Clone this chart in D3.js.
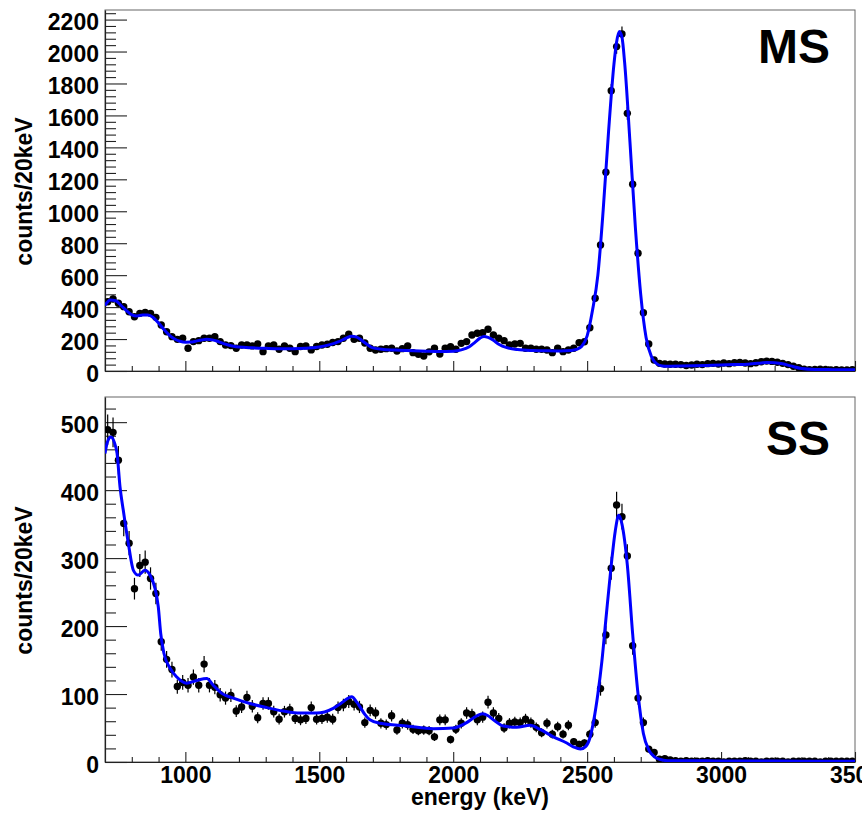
<!DOCTYPE html>
<html><head><meta charset="utf-8">
<script src="https://cdn.jsdelivr.net/npm/d3@7"></script>
<style>
body{margin:0;background:#fff}
text{font-family:"Liberation Sans",Arial,Helvetica,sans-serif;font-weight:bold;fill:#000}
</style>
</head><body>
<svg id="c" width="862" height="813"></svg>
<script>
// ---- data ----
const energyBins = d3.range(710, 3500, 20); // 20 keV bin centers, 700-3500 keV

const msCounts = [
  434,451,424,403,371,340,361,367,361,336,
  288,246,215,198,205,142,184,190,205,205,
  215,184,163,159,142,163,163,157,169,121,
  157,163,136,157,142,121,153,157,132,153,
  163,167,178,184,205,230,198,205,175,142,
  131,136,140,142,125,140,157,115,105,94,
  120,142,106,142,152,136,173,184,225,236,
  240,261,225,205,190,163,169,173,142,142,
  136,136,131,115,142,121,131,142,177,183,
  271,455,789,1244,1755,2031,2110,1613,1169,737,
  365,169,69,48,44,42,42,40,34,38,
  42,40,46,48,44,50,46,52,54,50,
  46,52,58,62,60,55,48,40,30,20,
  12,8,10,12,10,6,8,6,6,8
];

const ssCounts = [
  489,485,444,351,322,255,289,294,270,248,
  177,151,136,111,117,113,125,113,144,113,
  110,99,94,98,75,81,95,82,65,86,
  86,74,63,74,77,64,62,64,80,63,
  64,66,63,80,84,89,85,81,58,76,
  72,57,55,68,47,57,55,48,46,47,
  46,37,62,62,33,48,57,72,70,62,
  66,88,72,64,50,57,59,58,63,58,
  51,43,57,41,52,41,54,30,26,28,
  41,58,108,187,285,378,361,303,171,94,
  58,19,14,4,5,3,2,1,2,1,
  1,1,2,1,1,0,1,1,1,2,
  1,1,0,1,1,1,1,0,1,1,
  1,1,1,0,1,1,1,1,1,1
];

// fitted curves: [energy, counts]
const msFit = [
  [700,410],[720,445],[740,440],[760,410],[780,378],[800,352],[820,345],[840,350],[860,350],[880,335],
  [900,300],[920,260],[940,225],[960,200],[980,186],[1000,180],[1020,181],[1040,187],[1060,194],[1080,198],
  [1100,195],[1120,186],[1140,173],[1160,163],[1180,155],[1200,150],[1250,145],[1300,142],[1350,140],[1400,140],
  [1450,142],[1500,150],[1540,165],[1570,182],[1600,205],[1620,218],[1640,212],[1660,190],[1680,165],[1700,145],
  [1740,135],[1800,130],[1850,127],[1900,124],[1950,122],[2000,124],[2030,132],[2060,152],[2080,178],[2100,206],
  [2115,216],[2130,210],[2150,192],[2170,168],[2200,146],[2240,134],[2300,128],[2350,126],[2400,125],[2440,128],
  [2460,135],[2480,155],[2500,220],[2520,380],[2540,600],[2560,1010],[2580,1500],[2600,1920],[2610,2060],[2620,2125],
  [2630,2090],[2640,1930],[2660,1430],[2680,900],[2700,480],[2720,210],[2740,90],[2760,45],[2780,32],[2800,30],
  [2850,31],[2900,33],[2950,35],[3000,37],[3050,40],[3100,43],[3150,50],[3170,53],[3200,51],[3230,45],
  [3260,32],[3300,16],[3350,10],[3400,9],[3450,8],[3500,8]
];

const ssFit = [
  [700,454],[710,472],[722,478],[735,470],[745,454],[756,405],[768,371],[787,322],[806,282],[824,275],
  [849,282],[868,275],[887,255],[899,228],[908,189],[920,160],[943,138],[968,125],[1005,116],[1042,120],
  [1080,123],[1104,113],[1136,101],[1179,94],[1241,86],[1304,80],[1366,75],[1428,72],[1490,72],[1552,79],
  [1580,86],[1608,94],[1621,96],[1640,88],[1652,81],[1670,70],[1689,62],[1727,57],[1826,53],[1926,49],
  [2000,50],[2050,58],[2080,66],[2110,71],[2130,68],[2150,62],[2187,53],[2237,51],[2287,54],[2324,48],
  [2374,37],[2424,28],[2450,22],[2475,19],[2495,23],[2510,35],[2525,62],[2540,100],[2555,148],[2570,210],
  [2590,290],[2605,340],[2618,363],[2630,350],[2650,290],[2670,188],[2690,100],[2710,42],[2730,18],[2750,8],
  [2770,4],[2800,2],[2900,2],[3000,1.5],[3200,1.5],[3400,1],[3500,1]
];

const xTickLabels = [1000,1500,2000,2500,3000,3500];
const xMinorTicks = [800,900,1100,1200,1300,1400,1600,1700,1800,1900,2100,2200,2300,2400,2600,2700,2800,2900,3100,3200,3300,3400];
const msYTicks = [0,200,400,600,800,1000,1200,1400,1600,1800,2000,2200];
const ssYTicks = [0,100,200,300,400,500];

// ---- layout ----
const svg = d3.select("#c");
const x = d3.scaleLinear().domain([700,3500]).range([105,855]);
const FS = 23;

const panels = [
  {name:"MS", counts:msCounts, fit:msFit, top:10, bottom:371, yMax:2260, yTicks:msYTicks, yMinorStep:40, labels:false, tagY:63},
  {name:"SS", counts:ssCounts, fit:ssFit, top:397, bottom:762, yMax:537, yTicks:ssYTicks, yMinorStep:20, labels:true, tagY:455}
];

panels.forEach((p,i) => {
  const y = d3.scaleLinear().domain([0,p.yMax]).range([p.bottom,p.top]);
  const g = svg.append("g");
  const clipId = "clip"+i;
  svg.append("clipPath").attr("id",clipId).append("rect")
    .attr("x",105).attr("y",p.top).attr("width",750).attr("height",p.bottom-p.top);

  // frame
  g.append("rect").attr("x",105).attr("y",p.top).attr("width",750).attr("height",p.bottom-p.top)
    .attr("fill","none").attr("stroke","#666").attr("stroke-width",1);

  // y axis
  const minorY = d3.range(0,p.yMax+0.001,p.yMinorStep).filter(v=>!p.yTicks.includes(v));
  const yAx = g.append("g").attr("transform","translate(105,0)")
    .call(d3.axisLeft(y).tickValues(p.yTicks).tickSizeInner(-22).tickSizeOuter(0).tickPadding(6).tickFormat(d3.format("d")));
  yAx.selectAll("text").attr("dy","0.45em").style("font-size",FS+"px");
  yAx.selectAll(".tick line").attr("stroke","#222").attr("stroke-width",1.1);
  yAx.select(".domain").attr("stroke","#222").attr("stroke-width",1.2);
  g.append("g").attr("transform","translate(105,0)")
    .call(d3.axisLeft(y).tickValues(minorY).tickSizeInner(-11).tickSizeOuter(0).tickFormat(""))
    .call(s=>{s.select(".domain").remove(); s.selectAll(".tick line").attr("stroke","#222").attr("stroke-width",1.1);});

  // x axis
  const xAx = g.append("g").attr("transform",`translate(0,${p.bottom})`)
    .call(d3.axisBottom(x).tickValues(xTickLabels).tickSizeInner(-10).tickSizeOuter(0).tickPadding(5)
      .tickFormat(p.labels ? d3.format("d") : ""));
  xAx.selectAll("text").style("font-size",FS+"px");
  xAx.selectAll(".tick line").attr("stroke","#222").attr("stroke-width",1.1);
  xAx.select(".domain").attr("stroke","#222").attr("stroke-width",1.2);
  g.append("g").attr("transform",`translate(0,${p.bottom})`)
    .call(d3.axisBottom(x).tickValues(xMinorTicks).tickSizeInner(-5).tickSizeOuter(0).tickFormat(""))
    .call(s=>{s.select(".domain").remove(); s.selectAll(".tick line").attr("stroke","#222").attr("stroke-width",1.1);});

  // y title
  g.append("text").attr("transform",`translate(31.5,${(p.top+p.bottom)/2+1}) rotate(-90)`)
    .attr("text-anchor","middle").style("font-size","23px").text("counts/20keV");

  // data points with error bars
  const data = energyBins.map((e,k)=>({e, v:p.counts[k]}));
  const pts = g.append("g").attr("clip-path",`url(#${clipId})`);
  pts.selectAll("line.err").data(data.filter(d=>d.v>0)).join("line").attr("class","err")
    .attr("x1",d=>x(d.e)).attr("x2",d=>x(d.e))
    .attr("y1",d=>y(d.v+Math.sqrt(d.v))).attr("y2",d=>y(Math.max(0,d.v-Math.sqrt(d.v))))
    .attr("stroke","#000").attr("stroke-width",1.2);
  pts.selectAll("circle").data(data).join("circle")
    .attr("cx",d=>x(d.e)).attr("cy",d=>y(d.v)).attr("r",3.7).attr("fill","#000");

  // fit curve
  g.append("path").attr("clip-path",`url(#${clipId})`)
    .datum(p.fit)
    .attr("d", d3.line().x(d=>x(d[0])).y(d=>y(d[1])).curve(d3.curveMonotoneX))
    .attr("fill","none").attr("stroke","#0000ff").attr("stroke-width",3);

  // tag
  g.append("text").attr("x",830).attr("y",p.tagY).attr("text-anchor","end")
    .style("font-size","48px").text(p.name);
});

// x title
svg.append("text").attr("x",480).attr("y",805).attr("text-anchor","middle")
  .style("font-size",FS+"px").text("energy (keV)");
</script>
</body></html>
